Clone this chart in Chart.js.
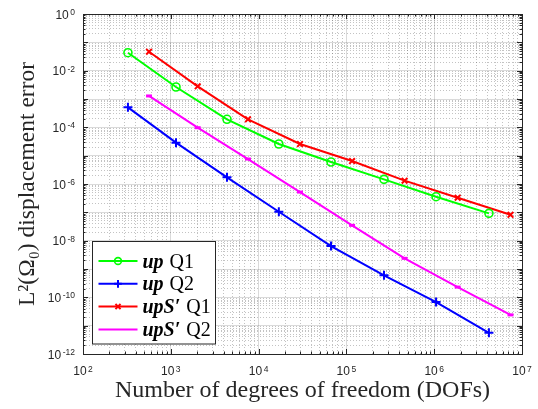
<!DOCTYPE html>
<html>
<head>
<meta charset="utf-8">
<title>L2 displacement error vs DOFs</title>
<script src="https://cdn.jsdelivr.net/npm/chart.js@4.4.1/dist/chart.umd.min.js"></script>
<style>
  html, body { margin: 0; padding: 0; background: #fff; }
  #wrap { width: 538px; height: 409px; position: relative; }
</style>
</head>
<body>
<div id="wrap"><canvas id="chart"></canvas></div>
<script>
// Degrees of freedom for each refinement level
const dofsUp = [325, 1146, 4365, 17000, 66800, 268000, 1050000, 4200000];
const dofsUpS = [565, 2025, 7570, 29600, 116000, 460000, 1850000, 7400000];

// L2 displacement errors
const errUpQ1 = [4.3e-2, 2.65e-3, 1.92e-4, 2.58e-5, 5.97e-6, 1.46e-6, 3.56e-7, 9.2e-8];
const errUpQ2 = [5.08e-4, 2.88e-5, 1.72e-6, 1.05e-7, 6.46e-9, 5.97e-10, 6.8e-11, 5.6e-12];
const errUpSQ1 = [4.67e-2, 2.8e-3, 1.92e-4, 2.58e-5, 6.46e-6, 1.31e-6, 3.29e-7, 8.2e-8];
const errUpSQ2 = [1.28e-3, 9.7e-5, 7.6e-6, 5.2e-7, 3.47e-8, 2.38e-9, 2.3e-10, 2.4e-11];

const seriesLabels = ['up Q1', 'up Q2', 'upS\u2032 Q1', 'upS\u2032 Q2'];

// decade exponents used for the tick labels
const xTickExps = [2, 3, 4, 5, 6, 7];
const yTickExps = [0, -2, -4, -6, -8, -10, -12];

const axisInk = '#262626';
const majorGrid = 'rgba(38,38,38,0.17)';
const minorGrid = 'rgba(38,38,38,0.28)';

function isDecade(v) {
    const e = Math.log10(v);
    return Math.abs(e - Math.round(e)) < 1e-6;
}

// every 1..9 x 10^k tick between two decades
function logTicks(minExp, maxExp) {
    const ticks = [];
    for (let e = minExp; e < maxExp; e++) {
        for (let m = 1; m < 10; m++) {
            ticks.push({ value: m * Math.pow(10, e) });
        }
    }
    ticks.push({ value: Math.pow(10, maxExp) });
    return ticks;
}

function toPoints(xs, ys) {
    return xs.map((x, i) => ({ x: x, y: ys[i] }));
}

function gridColor(c) {
    if (!c.tick) return majorGrid;
    return isDecade(c.tick.value) ? majorGrid : minorGrid;
}

function gridDash(c) {
    if (!c.tick) return [];
    return isDecade(c.tick.value) ? [] : [1, 2];
}

function drawMarker(ctx, style, x, y, r, color, width) {
    ctx.save();
    ctx.strokeStyle = color;
    ctx.lineWidth = width;
    ctx.beginPath();
    if (style === 'circle') {
        ctx.arc(x, y, r, 0, Math.PI * 2);
    } else if (style === 'cross') {
        ctx.moveTo(x - r, y); ctx.lineTo(x + r, y);
        ctx.moveTo(x, y - r); ctx.lineTo(x, y + r);
    } else if (style === 'crossRot') {
        const d = r * 0.75;
        ctx.moveTo(x - d, y - d); ctx.lineTo(x + d, y + d);
        ctx.moveTo(x - d, y + d); ctx.lineTo(x + d, y - d);
    } else if (style === 'line') {
        ctx.moveTo(x - r, y); ctx.lineTo(x + r, y);
    }
    ctx.stroke();
    ctx.restore();
}

// "10" with a raised exponent, MATLAB style
function drawPow10(ctx, exp, x, y, align) {
    const base = '10';
    const sup = String(exp);
    ctx.font = '12px "Liberation Sans", Arial, sans-serif';
    const wb = ctx.measureText(base).width;
    ctx.font = '8.5px "Liberation Sans", Arial, sans-serif';
    const ws = ctx.measureText(sup).width;
    const total = wb + 1.5 + ws;
    let left = x;
    if (align === 'center') left = x - total / 2;
    if (align === 'right') left = x - total;
    ctx.fillStyle = axisInk;
    ctx.textBaseline = 'alphabetic';
    ctx.textAlign = 'left';
    ctx.font = '12px "Liberation Sans", Arial, sans-serif';
    ctx.fillText(base, left, y);
    ctx.font = '8.5px "Liberation Sans", Arial, sans-serif';
    ctx.fillText(sup, left + wb + 1.5, y - 3.5);
}

const matlabAxes = {
    id: 'matlabAxes',
    afterDraw(chart) {
        const ctx = chart.ctx;
        const ca = chart.chartArea;
        const xs = chart.scales.x;
        const ys = chart.scales.y;

        ctx.save();
        // inward tick marks on all four sides
        ctx.strokeStyle = axisInk;
        ctx.lineWidth = 1;
        ctx.beginPath();
        xs.ticks.forEach(t => {
            const px = Math.round(xs.getPixelForValue(t.value)) + 0.5;
            const len = isDecade(t.value) ? 5 : 2.5;
            ctx.moveTo(px, ca.bottom); ctx.lineTo(px, ca.bottom - len);
            ctx.moveTo(px, ca.top); ctx.lineTo(px, ca.top + len);
        });
        ys.ticks.forEach(t => {
            const py = Math.round(ys.getPixelForValue(t.value)) + 0.5;
            const len = isDecade(t.value) ? 5 : 2.5;
            ctx.moveTo(ca.left, py); ctx.lineTo(ca.left + len, py);
            ctx.moveTo(ca.right, py); ctx.lineTo(ca.right - len, py);
        });
        ctx.stroke();

        // axes box
        ctx.strokeRect(Math.round(ca.left) + 0.5, Math.round(ca.top) + 0.5,
            Math.round(ca.right - ca.left), Math.round(ca.bottom - ca.top));

        // tick labels
        xTickExps.forEach(e => {
            drawPow10(ctx, e, xs.getPixelForValue(Math.pow(10, e)), ca.bottom + 21, 'center');
        });
        yTickExps.forEach(e => {
            drawPow10(ctx, e, ca.left - 8, ys.getPixelForValue(Math.pow(10, e)) + 4.5, 'right');
        });

        // legend box in the lower left corner
        const lx = ca.left + 9.5, ly = ca.top + 227.5, lw = 123, lh = 102.5;
        ctx.fillStyle = '#ffffff';
        ctx.fillRect(lx, ly, lw, lh);
        ctx.strokeStyle = axisInk;
        ctx.lineWidth = 1;
        ctx.strokeRect(lx, ly, lw, lh);

        chart.data.datasets.forEach((ds, i) => {
            const rowY = ly + 19.5 + i * 22.8;
            ctx.strokeStyle = ds.borderColor;
            ctx.lineWidth = 2;
            ctx.beginPath();
            ctx.moveTo(lx + 6, rowY);
            ctx.lineTo(lx + 45, rowY);
            ctx.stroke();
            if (ds.legendMarker) {
                drawMarker(ctx, ds.pointStyle, lx + 25.5, rowY, ds.pointRadius * 0.85, ds.borderColor, ds.pointBorderWidth);
            }
            const parts = ds.label.split(' ');
            ctx.fillStyle = '#000';
            ctx.textBaseline = 'alphabetic';
            ctx.textAlign = 'left';
            ctx.font = 'italic bold 20px "Liberation Serif", "DejaVu Serif", serif';
            ctx.fillText(parts[0], lx + 50, rowY + 6.5);
            const w0 = ctx.measureText(parts[0]).width;
            ctx.font = '20px "Liberation Serif", "DejaVu Serif", serif';
            ctx.fillText(parts[1], lx + 50 + w0 + 6, rowY + 6.5);
        });
        ctx.restore();
    }
};

const ctx = document.getElementById('chart').getContext('2d');
new Chart(ctx, {
    type: 'line',
    data: {
        datasets: [{
            label: seriesLabels[0],
            data: toPoints(dofsUp, errUpQ1),
            borderColor: '#00ff00',
            borderWidth: 2,
            pointStyle: 'circle',
            pointRadius: 4,
            pointBorderWidth: 1.6,
            pointBackgroundColor: 'rgba(0,0,0,0)',
            legendMarker: true
        }, {
            label: seriesLabels[1],
            data: toPoints(dofsUp, errUpQ2),
            borderColor: '#0000ff',
            borderWidth: 2,
            pointStyle: 'cross',
            pointRadius: 4.5,
            pointBorderWidth: 2,
            legendMarker: true
        }, {
            label: seriesLabels[2],
            data: toPoints(dofsUpS, errUpSQ1),
            borderColor: '#ff0000',
            borderWidth: 2,
            pointStyle: 'crossRot',
            pointRadius: 4,
            pointBorderWidth: 2,
            legendMarker: true
        }, {
            label: seriesLabels[3],
            data: toPoints(dofsUpS, errUpSQ2),
            borderColor: '#ff00ff',
            borderWidth: 2,
            pointStyle: 'line',
            pointRadius: 3,
            pointBorderWidth: 3,
            legendMarker: false
        }]
    },
    options: {
        responsive: true,
        maintainAspectRatio: false,
        animation: false,
        layout: {
            padding: { top: 14, right: 16, left: 0, bottom: 0 }
        },
        plugins: {
            legend: { display: false },
            tooltip: { enabled: false }
        },
        elements: {
            line: { tension: 0, fill: false }
        },
        scales: {
            x: {
                type: 'logarithmic',
                min: 1e2,
                max: 1e7,
                afterBuildTicks: s => { s.ticks = logTicks(2, 7); },
                afterFit: s => { s.height = 55; },
                ticks: { display: false },
                grid: { drawTicks: false, color: gridColor, lineWidth: 1 },
                border: { display: false, dash: gridDash },
                title: {
                    display: true,
                    text: 'Number of degrees of freedom (DOFs)',
                    color: '#262626',
                    font: { family: '"Liberation Serif", "DejaVu Serif", serif', size: 24 },
                    padding: { top: 0, bottom: 3.5 }
                }
            },
            y: {
                type: 'logarithmic',
                min: 1e-12,
                max: 1e0,
                afterBuildTicks: s => { s.ticks = logTicks(-12, 0); },
                afterFit: s => { s.width = 83; },
                ticks: { display: false },
                grid: { drawTicks: false, color: gridColor, lineWidth: 1 },
                border: { display: false, dash: gridDash },
                title: {
                    display: true,
                    text: 'L\u00b2(\u03a9\u2080) displacement error',
                    color: '#262626',
                    font: { family: '"Liberation Serif", "DejaVu Serif", serif', size: 23.5 },
                    padding: { top: 13.5, bottom: 0 }
                }
            }
        }
    },
    plugins: [matlabAxes]
});
</script>
</body>
</html>
